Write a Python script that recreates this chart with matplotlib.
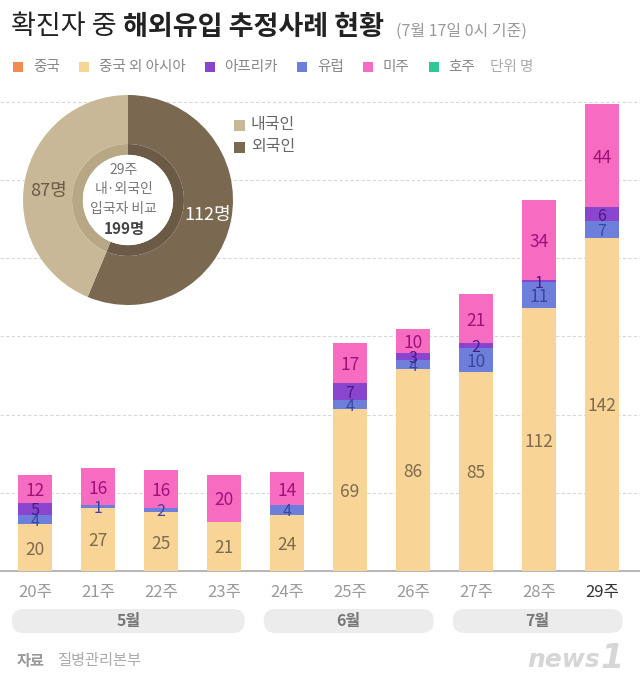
import matplotlib
matplotlib.use('Agg')
import matplotlib.pyplot as plt
from matplotlib.patches import FancyBboxPatch, Rectangle, Circle

plt.rcParams['font.family'] = ['Noto Sans CJK KR', 'DejaVu Sans']

# ---------------- data ----------------
weeks = ['20주', '21주', '22주', '23주', '24주', '25주', '26주', '27주', '28주', '29주']
asia_ex_china = [20, 27, 25, 21, 24, 69, 86, 85, 112, 142]
europe = [4, 1, 2, 0, 4, 4, 4, 10, 11, 7]
africa = [5, 0, 0, 0, 0, 7, 3, 2, 1, 6]
americas = [12, 16, 16, 20, 14, 17, 10, 21, 34, 44]

legend_labels = ['중국', '중국 외 아시아', '아프리카', '유럽', '미주', '호주']
unit_label = '단위 명'

months = ['5월', '6월', '7월']
month_first_week = [0, 4, 7]
month_last_week = [3, 6, 9]

donut_labels = ['외국인', '내국인']
donut_values = [112, 87]
donut_week = '29주'

title_regular = '확진자 중'
title_bold = '해외유입 추정사례 현황'
subtitle = '(7월 17일 0시 기준)'
source_head = '자료'
source_body = '질병관리본부'

# ---------------- style ----------------
C_CHINA = '#f08a4e'
C_ASIA = '#f8d597'
C_AFRICA = '#8a45cf'
C_EUROPE = '#6d7fdb'
C_AMERICAS = '#f56cc0'
C_OCEANIA = '#2ec996'
legend_colors = [C_CHINA, C_ASIA, C_AFRICA, C_EUROPE, C_AMERICAS, C_OCEANIA]

W, H = 640, 684
fig = plt.figure(figsize=(W / 100, H / 100), dpi=100)
fig.patch.set_facecolor('white')


def px_axes(x0, y0, w, h):
    return fig.add_axes([x0 / W, 1 - (y0 + h) / H, w / W, h / H])


# overlay in pixel coordinates (y downward)
ov = fig.add_axes([0, 0, 1, 1])
ov.set_xlim(0, W)
ov.set_ylim(H, 0)
ov.axis('off')
ov.patch.set_alpha(0)
ov.set_zorder(0)

# ---------------- bar chart ----------------
ax = px_axes(0, 95, 640, 476)
ax.set_zorder(1)
ax.patch.set_alpha(0)
ax.set_xlim(-0.556, 9.603)
ax.set_ylim(0, 476 / 2.347)

for k in range(1, 7):
    ax.axhline(200 / 6 * k, color='#d8d8d8', lw=0.8, ls=(0, (3, 2)), zorder=0)

x = list(range(len(weeks)))
series = [
    (asia_ex_china, C_ASIA, '#7d6b4e'),
    (europe, C_EUROPE, '#3a46a0'),
    (africa, C_AFRICA, '#4a1a88'),
    (americas, C_AMERICAS, '#a0107a'),
]
bottom = [0] * len(weeks)
for vals, col, tcol in series:
    ax.bar(x, vals, 0.53, bottom=bottom, color=col, linewidth=0, zorder=3)
    for i, v in enumerate(vals):
        if v > 0:
            fs = 12.5 if v >= 8 else 11.5
            ax.text(i, bottom[i] + v / 2, str(v), ha='center', va='center_baseline',
                    color=tcol, fontsize=fs, zorder=4)
    bottom = [b + v for b, v in zip(bottom, vals)]

for s in ['top', 'left', 'right']:
    ax.spines[s].set_visible(False)
ax.spines['bottom'].set_color('#b0b0b0')
ax.spines['bottom'].set_linewidth(1.3)
ax.set_yticks([])
ax.set_xticks(x)
ax.set_xticklabels(weeks, fontsize=12, color='#9a9a9a')
ax.tick_params(axis='x', length=0, pad=9)
ax.get_xticklabels()[-1].set_color('#333333')

# month pills
for m, f, l in zip(months, month_first_week, month_last_week):
    x0 = ax.transData.transform((f - 0.37, 0))[0]
    x1 = ax.transData.transform((l + 0.33, 0))[0]
    ov.add_patch(FancyBboxPatch((x0, 609), x1 - x0, 24,
                                boxstyle='round,pad=0,rounding_size=12',
                                facecolor='#ececec', edgecolor='none'))
    ov.text((x0 + x1) / 2, 621, m, ha='center', va='center', fontsize=11.5,
            color='#777777', fontweight='bold')

# ---------------- donut ----------------
DARK, LIGHT = '#7a6851', '#c8b897'
DARK2, LIGHT2 = '#6b5a45', '#b7a785'
dax = px_axes(128 - 105, 200 - 105, 210, 210)
dax.set_zorder(2)
dax.patch.set_alpha(0)
dax.pie(donut_values, colors=[DARK, LIGHT], startangle=90, counterclock=False,
        radius=1, wedgeprops=dict(width=1 - 0.533, linewidth=0))
dax.pie(donut_values, colors=[DARK2, LIGHT2], startangle=90, counterclock=False,
        radius=0.533, wedgeprops=dict(width=0.533 - 0.43, linewidth=0))
dax.add_patch(Circle((0, 0), 0.43, facecolor='white', edgecolor='none'))
dax.set_xlim(-1, 1)
dax.set_ylim(-1, 1)
dax.set_aspect('equal')
dax.axis('off')

dax.text(-0.76, 0.09, f'{donut_values[1]}명', ha='center', va='center',
         fontsize=13, color='#6b5a45')
dax.text(0.76, -0.14, f'{donut_values[0]}명', ha='center', va='center',
         fontsize=13, color='white')
dax.text(-0.04, 0.29, donut_week, ha='center', va='center', fontsize=10, color='#777777')
dax.text(-0.04, 0.10, '내·외국인', ha='center', va='center', fontsize=10, color='#777777')
dax.text(-0.04, -0.09, '입국자 비교', ha='center', va='center', fontsize=10, color='#777777')
dax.text(-0.04, -0.28, f'{sum(donut_values)}명', ha='center', va='center', fontsize=11,
         color='#444444', fontweight='bold')

# donut legend
for lab, col, yy in [(donut_labels[1], LIGHT, 125), (donut_labels[0], DARK, 147)]:
    ov.add_patch(Rectangle((234, yy - 5.5), 11, 11, facecolor=col, edgecolor='none'))
    ov.text(251, yy, lab, ha='left', va='center', fontsize=11.5, color='#666666')

# ---------------- title & legend ----------------
fig.canvas.draw()
renderer = fig.canvas.get_renderer()

t1 = ov.text(11, 27, title_regular, ha='left', va='center', fontsize=19.5, color='#222222')
xe = t1.get_window_extent(renderer).x1
t2 = ov.text(xe + 6, 27, title_bold, ha='left', va='center', fontsize=19.5,
             color='#222222', fontweight='bold')
xe = t2.get_window_extent(renderer).x1
ov.text(xe + 12, 31, subtitle, ha='left', va='center', fontsize=11.5, color='#999999')

xcur = 13
for lab, col in zip(legend_labels, legend_colors):
    ov.add_patch(Rectangle((xcur, 62), 10, 10, facecolor=col, edgecolor='none'))
    t = ov.text(xcur + 20, 67, lab, ha='left', va='center', fontsize=10.5, color='#888888')
    xcur = t.get_window_extent(renderer).x1 + 19
ov.text(xcur - 4, 67, unit_label, ha='left', va='center', fontsize=10.5, color='#aaaaaa')

# ---------------- footer ----------------
ov.text(17, 661, source_head, ha='left', va='center', fontsize=11, color='#999999',
        fontweight='bold')
ov.text(57, 661, source_body, ha='left', va='center', fontsize=11, color='#aaaaaa')
ov.text(527, 660, 'news', ha='left', va='center', fontsize=18, color='#d6d6d6',
        fontweight='bold', fontstyle='italic', family='DejaVu Sans')
ov.text(612, 658, '1', ha='center', va='center', fontsize=24, color='#d6d6d6',
        fontweight='bold', fontstyle='italic', family='DejaVu Sans')

fig.savefig('out.png', dpi=100, facecolor='white')
